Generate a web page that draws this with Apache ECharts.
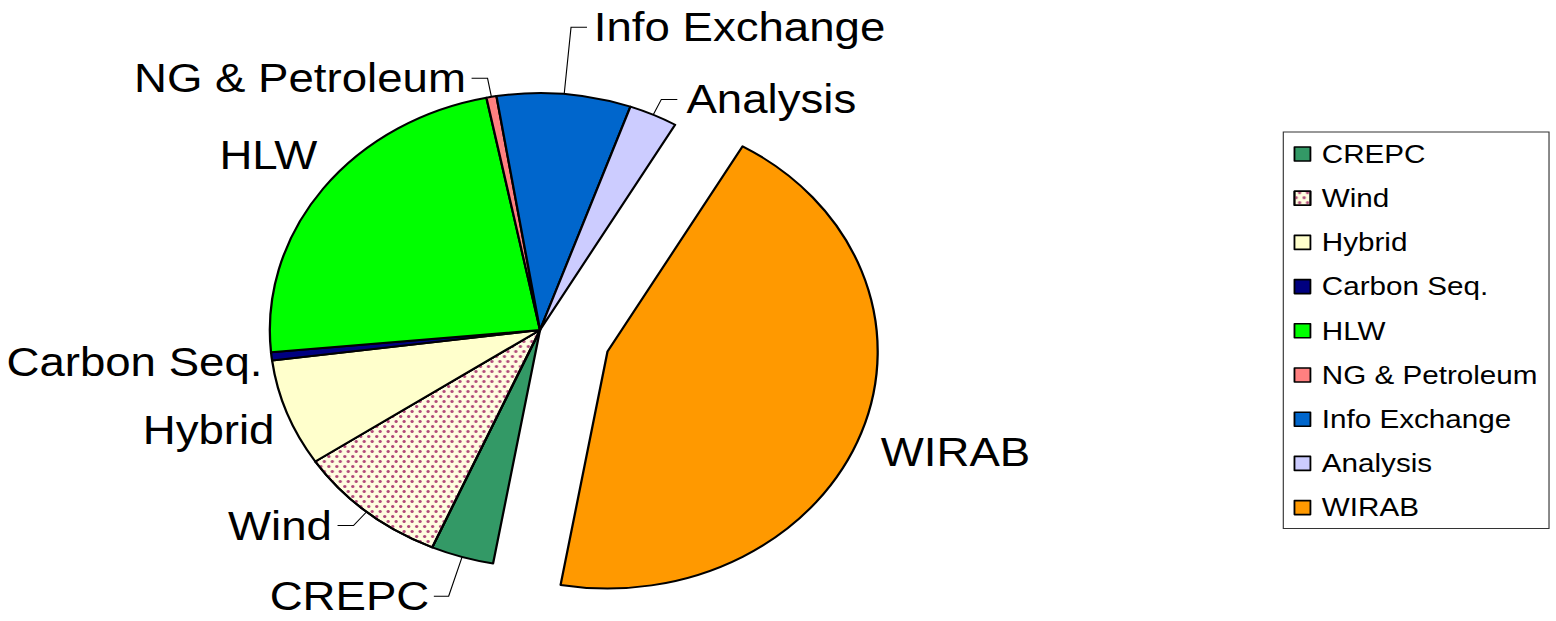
<!DOCTYPE html>
<html>
<head>
<meta charset="utf-8">
<script src="https://cdn.jsdelivr.net/npm/echarts@6/dist/echarts.min.js"></script>
<style>
html, body { margin: 0; padding: 0; background: #ffffff; overflow: hidden; width: 1556px; height: 621px; }
#chart { position: absolute; left: 0; top: 0; width: 1365px; height: 621px; transform: scaleX(1.14); transform-origin: 0 0; }
</style>
</head>
<body>
<div id="chart"></div>
<script>
// ---- Data (shares in percent) ----
const categories = ['CREPC', 'Wind', 'Hybrid', 'Carbon Seq.', 'HLW', 'NG & Petroleum', 'Info Exchange', 'Analysis', 'WIRAB'];
const shares = [3.75, 9.1, 7.3, 0.55, 23.3, 0.6, 8.0, 2.9, 44.4];
const explodedSlice = 'WIRAB';

// ---- Styles ----
const sliceColors = {
  'CREPC': '#339966',
  'Wind': '#FFFDE0',
  'Hybrid': '#FFFFCC',
  'Carbon Seq.': '#000080',
  'HLW': '#00FF00',
  'NG & Petroleum': '#FF8080',
  'Info Exchange': '#0066CC',
  'Analysis': '#CCCCFF',
  'WIRAB': '#FF9900'
};
const windDecal = {
  symbol: 'circle',
  symbolSize: 1,
  color: '#B04878',
  dashArrayX: [[2.3, 3.7], [0, 3, 2.3, 0.7]],
  dashArrayY: [2.3, 1.2],
  rotation: 0
};
// label line lengths / distances / vertical nudges per slice
const labelTweaks = {
  'CREPC':          { line: true,  length: 41, length2: 13, dist: 4 },
  'Wind':           { line: true,  length: 18, length2: 14, dist: 5 },
  'Hybrid':         { line: false, length: 0,  length2: 0,  dist: 11, dy: 17 },
  'Carbon Seq.':    { line: false, length: 0,  length2: 0,  dist: 8,  dy: 6 },
  'HLW':            { line: false, length: 0,  length2: 0,  dist: 5,  dy: -34 },
  'NG & Petroleum': { line: true,  length: 19, length2: 14, dist: 5 },
  'Info Exchange':  { line: true,  length: 67, length2: 14, dist: 6 },
  'Analysis':       { line: true,  length: 17, length2: 14, dist: 8 },
  'WIRAB':          { line: false, length: 0,  length2: 0,  dist: 17, dy: 19 }
};

const FONT = 'Liberation Sans, Arial, Helvetica, sans-serif';

const pieData = categories.map(function (name, i) {
  const t = labelTweaks[name];
  const item = {
    name: name,
    value: shares[i],
    itemStyle: { color: sliceColors[name] },
    label: { distanceToLabelLine: t.dist },
    labelLine: { show: t.line, length: t.length, length2: t.length2 }
  };
  if (name === 'Wind') item.itemStyle.decal = windDecal;
  if (name === explodedSlice) item.selected = true;
  return item;
});

const chart = echarts.init(document.getElementById('chart'), null, { renderer: 'svg' });
chart.setOption({
  animation: false,
  backgroundColor: '#ffffff',
  legend: {
    orient: 'vertical',
    left: 1125.7,
    top: 132,
    padding: [9, 10, 8, 9],
    itemWidth: 14,
    itemHeight: 14,
    itemGap: 18.2,
    icon: 'rect',
    borderColor: '#333333',
    borderWidth: 1,
    backgroundColor: '#ffffff',
    selectedMode: false,
    data: categories,
    itemStyle: { borderColor: '#000000', borderWidth: 1.6 },
    textStyle: { fontFamily: FONT, fontSize: 26, lineHeight: 26, color: '#000000', padding: [0, 0, 0, 5] }
  },
  series: [{
    type: 'pie',
    center: [473.7, 330],
    radius: 237,
    startAngle: 260,
    clockwise: true,
    selectedMode: 'single',
    selectedOffset: 63,
    avoidLabelOverlap: false,
    silent: true,
    emphasis: { disabled: true, scale: false },
    itemStyle: { borderColor: '#000000', borderWidth: 2, borderJoin: 'round' },
    label: {
      show: true,
      position: 'outside',
      fontFamily: FONT,
      fontSize: 40,
      color: '#000000',
      formatter: '{b}'
    },
    labelLine: { show: true, lineStyle: { color: '#000000', width: 1 } },
    labelLayout: function (params) {
      const t = labelTweaks[categories[params.dataIndex]];
      return (t && t.dy) ? { dy: t.dy } : {};
    },
    data: pieData
  }]
});
</script>
</body>
</html>
